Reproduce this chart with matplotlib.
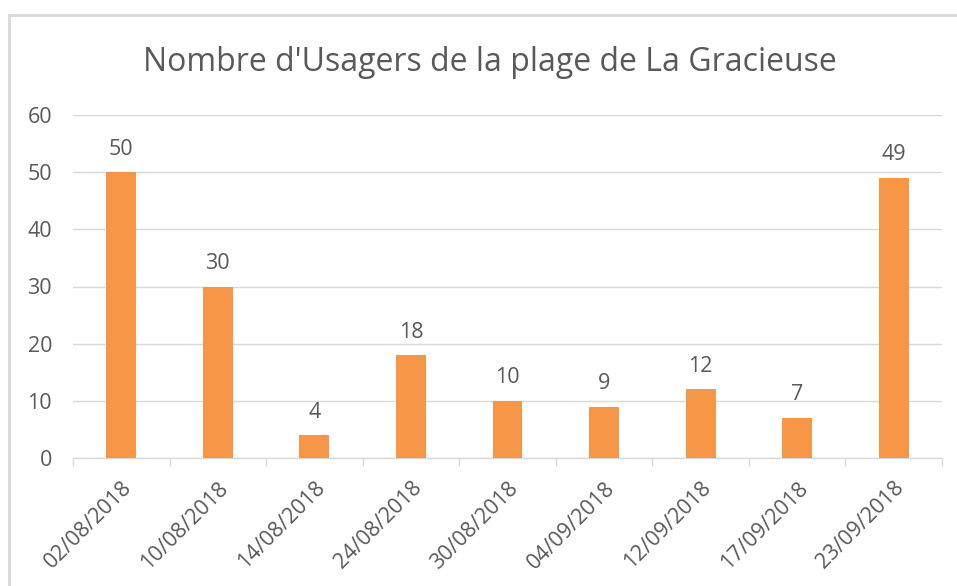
import matplotlib
matplotlib.use("Agg")
import matplotlib.pyplot as plt
from matplotlib.lines import Line2D
import numpy as np

dates = ["02/08/2018", "10/08/2018", "14/08/2018", "24/08/2018", "30/08/2018",
         "04/09/2018", "12/09/2018", "17/09/2018", "23/09/2018"]
usagers = [50, 30, 4, 18, 10, 9, 12, 7, 49]
title = "Nombre d'Usagers de la plage de La Gracieuse"

plt.rcParams['font.family'] = ['Open Sans', 'DejaVu Sans']
txt = '#595959'
grid = '#D9D9D9'
bar_c = '#F79646'
fs = 15.5

fig = plt.figure(figsize=(9.57, 5.86), dpi=100)
ax = fig.add_axes([73/957, 1-458/586, (942-73)/957, (458-115)/586])

x = np.arange(len(dates))
ax.bar(x, usagers, width=0.31, color=bar_c, zorder=3)
for xi, v in zip(x, usagers):
    ax.annotate(str(v), (xi, v), xytext=(0, 9), textcoords='offset points',
                ha='center', va='bottom', fontsize=fs, color=txt)

ax.set_xlim(-0.5, len(dates) - 0.5)
ax.set_ylim(0, 60)
ax.set_yticks(range(0, 61, 10))
ax.yaxis.grid(True, color=grid, lw=1, zorder=0)
ax.set_axisbelow(True)
for s in ['top', 'right', 'left']:
    ax.spines[s].set_visible(False)
ax.spines['bottom'].set_color(grid)
ax.spines['bottom'].set_linewidth(1)
ax.tick_params(axis='y', length=0, labelsize=fs, labelcolor=txt, pad=15)

ax.set_xticks(x)
ax.set_xticklabels(dates, rotation=45, ha='right', rotation_mode='anchor',
                   fontsize=fs, color=txt)
ax.tick_params(axis='x', length=0, pad=14)
ax.set_xticks(np.arange(-0.5, len(dates), 1), minor=True)
ax.tick_params(axis='x', which='minor', length=6, color=grid, width=1)

fig.text(490/957, 1-71/586, title, fontsize=23, color=txt, ha='center', va='baseline')

fig.add_artist(Line2D([9/957, 1.0], [1-15/586, 1-15/586], transform=fig.transFigure,
                      color=grid, lw=2))
fig.add_artist(Line2D([9/957, 9/957], [0, 1-15/586], transform=fig.transFigure,
                      color=grid, lw=2))

fig.savefig("out.png", dpi=100)
